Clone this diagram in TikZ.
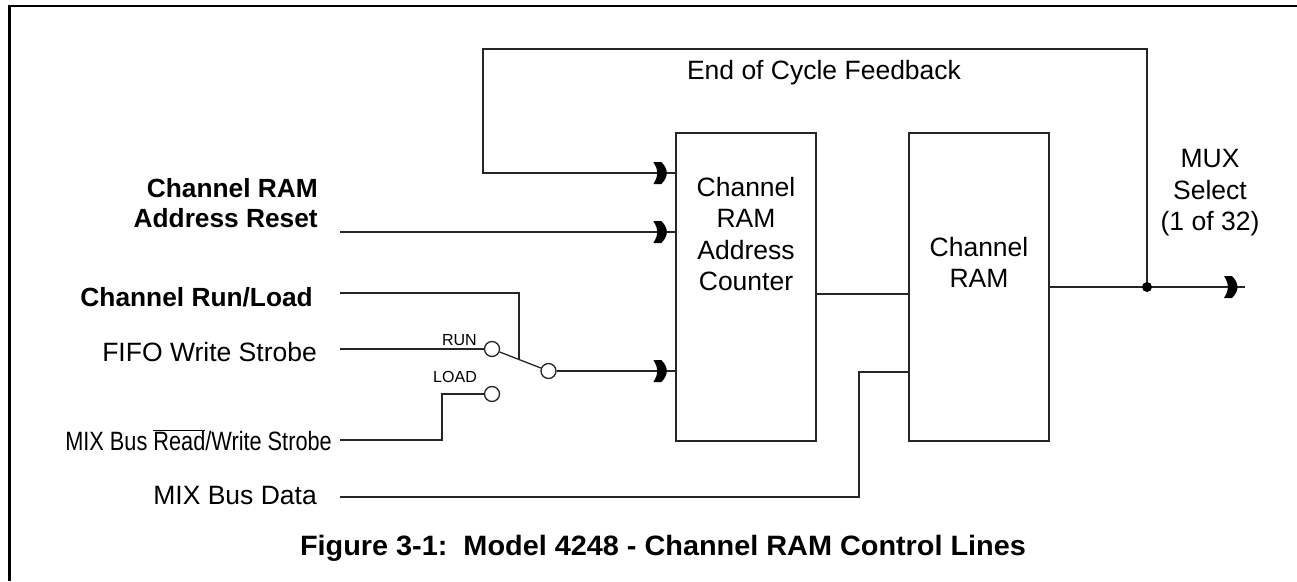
\documentclass[tikz,border=0pt]{standalone}
\usepackage{fontspec}
\setmainfont{Liberation Sans}
\usetikzlibrary{calc}
\begin{document}
\begin{tikzpicture}[x=1pt,y=-1pt,
  wire/.style={line width=1.3pt, draw=black!85},
  lbl/.style={inner sep=0pt, font=\fontsize{26.5}{31.5}\selectfont, text height=19pt, text depth=0pt},
  blbl/.style={lbl, font=\fontsize{26.3}{30}\selectfont\bfseries},
  smlbl/.style={inner sep=0pt, font=\fontsize{16}{18}\selectfont, text height=11.5pt, text depth=0pt},
  box/.style={draw=black!85, line width=1.3pt, minimum width=140pt, minimum height=308pt, inner sep=0pt},
  sw/.style={circle, draw=black!85, line width=1.3pt, minimum size=15pt, inner sep=0pt, fill=white},
  chev/.pic={\fill[black] (-7,-11) -- (1,-11) .. controls (5,-7) and (6.5,-3) .. (6.5,0) .. controls (6.5,3) and (5,7) .. (1,11) -- (-7,11) .. controls (-4,6) and (-3,3) .. (-3,0) .. controls (-3,-3) and (-4,-6) .. (-7,-11) -- cycle;}
]
\useasboundingbox (0,0) rectangle (1297,581);
% frame
\draw[line width=2.5pt] (9.5,581) -- (9.5,5.8) -- (1297,5.8);

% blocks
\node[box] (cnt) at (746,287) {};
\node[box] (ram) at (979,287) {};
\node[lbl, align=center] (cntT) at (746,281) {Channel\\RAM\\Address\\Counter};
\node[lbl, align=center] (ramT) at (979,278) {Channel\\RAM};

% left labels
\node[blbl, align=right, anchor=east] (resetL) at (318,218) {Channel RAM\\Address Reset};
\node[blbl, anchor=east] (runL) at (313,297) {Channel Run/Load};
\node[lbl, anchor=east] (fifoL) at (317,352) {FIFO Write Strobe};
\node[lbl, anchor=east] (mixrwL) at (332,441) {\scalebox{0.82}[1]{MIX Bus $\overline{\mbox{Read}}$/Write Strobe}};
\node[lbl, anchor=east] (mixdL) at (317,495) {MIX Bus Data};

% line start points
\coordinate (resetS) at (340,232);
\coordinate (runS) at (340,293);
\coordinate (fifoS) at (340,349);
\coordinate (mixrwS) at (340,440);
\coordinate (mixdS) at (340,497);

% switch
\node[sw] (run) at (492,349) {};
\node[sw] (load) at (492,394) {};
\node[sw] (com) at (548.5,371) {};
\node[smlbl, anchor=east] (runT) at (477,340) {RUN};
\node[smlbl, anchor=east] (loadT) at (477,377) {LOAD};
\coordinate (lev) at ($(run)!0.478!(com)$);
\coordinate (lk) at (442,440);

\draw[wire] (run) -- (com);
\draw[wire] (runS) -| (lev);
\draw[wire] (fifoS) -- (run);
\draw[wire] (mixrwS) -- (lk) |- (load);

% inputs to counter
\draw[wire] (resetS) -- (cnt.west |- resetS);
\path (cnt.west |- resetS) ++(-15,0) pic {chev};
\draw[wire] (com) -- (cnt.west |- com);
\path (cnt.west |- com) ++(-15,0) pic {chev};

% feedback loop
\coordinate (j) at (1147,287);
\coordinate (fbTR) at (1147,49);
\coordinate (fbTL) at (483,49);
\coordinate (fbY) at (0,173);
\draw[wire] (j) -- (fbTR) -- (fbTL) |- (cnt.west |- fbY);
\path (cnt.west |- fbY) ++(-15,0) pic {chev};
\node[lbl] (fbT) at (824,70) {End of Cycle Feedback};

% counter to RAM
\coordinate (crY) at (0,294);
\draw[wire] (cnt.east |- crY) -- (ram.west |- crY);

% MIX bus data
\coordinate (dk) at (859,372);
\draw[wire] (mixdS) -| (dk) -- (ram.west |- dk);

% output
\coordinate (muxE) at (1245,287);
\draw[wire] (ram.east |- j) -- (j) -- (muxE);
\fill (j) circle (5);
\path (muxE) ++(-14,0) pic {chev};
\node[lbl, align=center] (muxT) at (1210,221) {MUX\\Select\\(1 of 32)};

% caption
\node[inner sep=0pt, font=\fontsize{28}{30}\selectfont\bfseries, text height=20pt, text depth=0pt] (cap) at (663,545) {\scalebox{1.03}[1]{Figure 3-1:\ \ Model 4248 - Channel RAM Control Lines}};
\end{tikzpicture}
\end{document}
